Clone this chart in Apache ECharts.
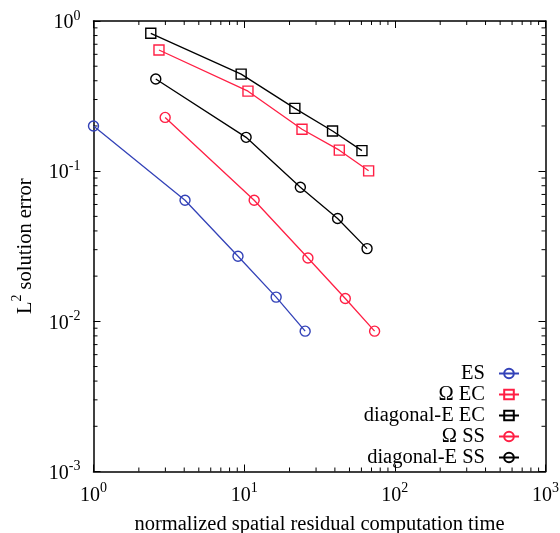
<!DOCTYPE html>
<html>
<head>
<meta charset="utf-8">
<script src="https://cdn.jsdelivr.net/npm/echarts@6/dist/echarts.min.js"></script>
<style>
    html, body { margin: 0; padding: 0; background: #fff; }
    #chart { width: 560px; height: 533px; }
</style>
</head>
<body>
<div id="chart"></div>
<script>
// values (log-log)
var esX = [1.0, 4.05, 9.1, 16.3, 25.4];
var esY = [0.2, 0.064, 0.0271, 0.0145, 0.0086];
var omegaEcX = [2.72, 10.6, 24.2, 42.8, 67];
var omegaEcY = [0.641, 0.341, 0.19, 0.138, 0.1005];
var diagEcX = [2.4, 9.55, 21.7, 38.6, 60.5];
var diagEcY = [0.828, 0.443, 0.262, 0.185, 0.137];
var omegaSsX = [2.99, 11.65, 26.5, 46.9, 73.4];
var omegaSsY = [0.228, 0.064, 0.0264, 0.0142, 0.0086];
var diagSsX = [2.59, 10.3, 23.6, 41.7, 65.4];
var diagSsY = [0.411, 0.168, 0.0782, 0.0484, 0.0305];

var seriesNames = ['ES', 'Ω EC', 'diagonal-E EC', 'Ω SS', 'diagonal-E SS'];

var xRange = [1, 1000];
var yRange = [0.001, 1];

var FONT = '"Liberation Serif", "DejaVu Serif", serif';
var BLUE = '#3342b8';
var RED = '#ff1f44';
var BLACK = '#000';

function zip(xs, ys) {
    var out = [];
    for (var i = 0; i < xs.length; i++) {
        out.push([xs[i], ys[i]]);
    }
    return out;
}

// minor tick values 2..9 for each decade
function minorValues(lo, hi) {
    var out = [];
    for (var d = lo; d < hi; d *= 10) {
        for (var k = 2; k <= 9; k++) {
            out.push(d * k);
        }
    }
    return out;
}

var powRich = {
    b: { fontSize: 20, fontFamily: FONT, color: BLACK, verticalAlign: 'bottom', padding: [4, 0, 0, 0] },
    s: { fontSize: 14, fontFamily: FONT, color: BLACK, verticalAlign: 'top' }
};

function powLabel(v) {
    var e = Math.round(Math.log10(v));
    return '{b|10}{s|' + e + '}';
}

function lineSeries(name, xs, ys, color, symbol) {
    return {
        name: name,
        type: 'line',
        data: zip(xs, ys),
        symbol: symbol,
        symbolSize: 10,
        clip: false,
        lineStyle: { color: color, width: 1.3 },
        itemStyle: { color: 'rgba(0,0,0,0)', borderColor: color, borderWidth: 1.4 },
        emphasis: { disabled: true },
        z: 3
    };
}

function minorTickSeries(isX) {
    var vals = isX ? minorValues(xRange[0], xRange[1]) : minorValues(yRange[0], yRange[1]);
    var data = vals.map(function (v) {
        return isX ? [v, yRange[0]] : [xRange[0], v];
    });
    return {
        type: 'custom',
        coordinateSystem: 'cartesian2d',
        silent: true,
        clip: false,
        data: data,
        renderItem: function (params, api) {
            var len = 4;
            var style = { stroke: BLACK, lineWidth: 1 };
            if (isX) {
                var v = api.value(0);
                var b = api.coord([v, yRange[0]]);
                var t = api.coord([v, yRange[1]]);
                return {
                    type: 'group',
                    children: [
                        { type: 'line', shape: { x1: b[0], y1: b[1], x2: b[0], y2: b[1] - len }, style: style },
                        { type: 'line', shape: { x1: t[0], y1: t[1], x2: t[0], y2: t[1] + len }, style: style }
                    ]
                };
            }
            var w = api.value(1);
            var l = api.coord([xRange[0], w]);
            var r = api.coord([xRange[1], w]);
            return {
                type: 'group',
                children: [
                    { type: 'line', shape: { x1: l[0], y1: l[1], x2: l[0] + len, y2: l[1] }, style: style },
                    { type: 'line', shape: { x1: r[0], y1: r[1], x2: r[0] - len, y2: r[1] }, style: style }
                ]
            };
        }
    };
}

var axisLine = { show: true, onZero: false, lineStyle: { color: BLACK, width: 1.5 } };
var axisTick = { show: true, inside: true, length: 7, lineStyle: { color: BLACK, width: 1 } };

var chart = echarts.init(document.getElementById('chart'), null, { renderer: 'canvas' });

var option = {
    backgroundColor: '#fff',
    animation: false,
    grid: { left: 93.5, right: 14.5, top: 21, bottom: 61.5, containLabel: false, outerBoundsMode: 'none' },
    legend: {
        data: seriesNames,
        orient: 'vertical',
        right: 40,
        top: 363,
        align: 'right',
        padding: 0,
        itemWidth: 20,
        itemHeight: 12,
        itemGap: 0,
        selectedMode: false,
        textStyle: { fontSize: 20.5, fontFamily: FONT, color: BLACK, padding: [0, 9, 0, 0] }
    },
    xAxis: [
        {
            type: 'log',
            logBase: 10,
            min: xRange[0],
            max: xRange[1],
            position: 'bottom',
            axisLine: axisLine,
            axisTick: axisTick,
            splitLine: { show: false },
            axisLabel: { formatter: powLabel, rich: powRich, margin: 10 },
            name: 'normalized spatial residual computation time',
            nameLocation: 'middle',
            nameGap: 43,
            nameTextStyle: { fontSize: 20.5, fontFamily: FONT, color: BLACK }
        },
        {
            type: 'log',
            logBase: 10,
            min: xRange[0],
            max: xRange[1],
            position: 'top',
            axisLine: axisLine,
            axisTick: axisTick,
            splitLine: { show: false },
            axisLabel: { show: false }
        }
    ],
    yAxis: [
        {
            type: 'log',
            logBase: 10,
            min: yRange[0],
            max: yRange[1],
            position: 'left',
            axisLine: axisLine,
            axisTick: axisTick,
            splitLine: { show: false },
            axisLabel: { formatter: powLabel, rich: powRich, margin: 13 },
            name: '{b|L}{s|2}{b| solution error}',
            nameLocation: 'middle',
            nameGap: 57,
            nameTextStyle: {
                rich: {
                    b: { fontSize: 20.5, fontFamily: FONT, color: BLACK, verticalAlign: 'bottom', padding: [5, 0, 0, 0] },
                    s: { fontSize: 14, fontFamily: FONT, color: BLACK, verticalAlign: 'top' }
                }
            }
        },
        {
            type: 'log',
            logBase: 10,
            min: yRange[0],
            max: yRange[1],
            position: 'right',
            axisLine: axisLine,
            axisTick: axisTick,
            splitLine: { show: false },
            axisLabel: { show: false }
        }
    ],
    series: [
        lineSeries(seriesNames[0], esX, esY, BLUE, 'circle'),
        lineSeries(seriesNames[1], omegaEcX, omegaEcY, RED, 'rect'),
        lineSeries(seriesNames[2], diagEcX, diagEcY, BLACK, 'rect'),
        lineSeries(seriesNames[3], omegaSsX, omegaSsY, RED, 'circle'),
        lineSeries(seriesNames[4], diagSsX, diagSsY, BLACK, 'circle'),
        minorTickSeries(true),
        minorTickSeries(false)
    ]
};

chart.setOption(option);
</script>
</body>
</html>
